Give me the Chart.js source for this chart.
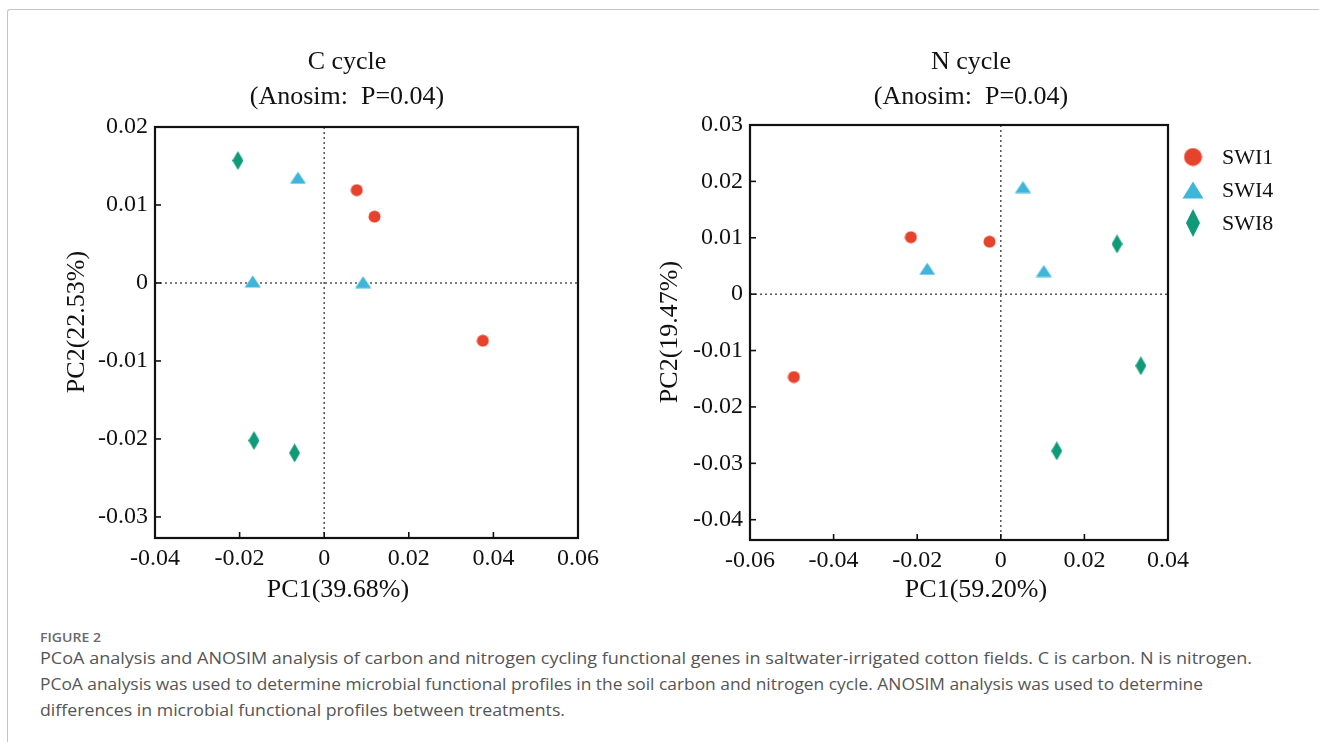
<!DOCTYPE html>
<html>
<head>
<meta charset="utf-8">
<script src="https://cdn.jsdelivr.net/npm/chart.js@4"></script>
<style>
  html, body { margin: 0; padding: 0; background: #fff; width: 1319px; height: 742px; overflow: hidden; }
  #frame { position: absolute; left: 7px; top: 9px; width: 1400px; height: 800px;
           border-top: 1px solid #c4c4c4; border-left: 1px solid #c4c4c4; border-top-left-radius: 3px; }
  #cWrap { position: absolute; left: 0; top: 0; }
  #nWrap { position: absolute; left: 640px; top: 0; }
  .cap { position: absolute; left: 40px; white-space: nowrap; color: #555;
         font-family: "Open Sans", "Liberation Sans", sans-serif; transform-origin: 0 50%; }
  #figLabel { top: 629px; font-size: 13px; line-height: 16px; font-weight: 600; color: #6a6a6a; }
  .line { font-size: 17px; line-height: 20px; }
</style>
</head>
<body>
<div id="frame"></div>
<div id="cWrap"><canvas id="chartC" width="640" height="620"></canvas></div>
<div id="nWrap"><canvas id="chartN" width="679" height="620"></canvas></div>
<div class="cap" id="figLabel">FIGURE 2</div>
<div class="cap line" id="cap1" style="top:648px">PCoA analysis and ANOSIM analysis of carbon and nitrogen cycling functional genes in saltwater-irrigated cotton fields. C is carbon. N is nitrogen.</div>
<div class="cap line" id="cap2" style="top:674px">PCoA analysis was used to determine microbial functional profiles in the soil carbon and nitrogen cycle. ANOSIM analysis was used to determine</div>
<div class="cap line" id="cap3" style="top:700px">differences in microbial functional profiles between treatments.</div>
<script>
// ---- data ----
const groupNames = ['SWI1', 'SWI4', 'SWI8'];

// C cycle
const swi1C = [{x: 0.0077, y: 0.0119}, {x: 0.0119, y: 0.0085}, {x: 0.0375, y: -0.0074}];
const swi4C = [{x: -0.0062, y: 0.0135}, {x: -0.0169, y: 0.0002}, {x: 0.0092, y: 0.0001}];
const swi8C = [{x: -0.0204, y: 0.0157}, {x: -0.0166, y: -0.0202}, {x: -0.0070, y: -0.0218}];
const cXTicks = [-0.04, -0.02, 0, 0.02, 0.04, 0.06];
const cYTicks = [-0.03, -0.02, -0.01, 0, 0.01, 0.02];

// N cycle
const swi1N = [{x: -0.0215, y: 0.0101}, {x: -0.0027, y: 0.0093}, {x: -0.0495, y: -0.0147}];
const swi4N = [{x: 0.0053, y: 0.0190}, {x: -0.0176, y: 0.0045}, {x: 0.0103, y: 0.0041}];
const swi8N = [{x: 0.0278, y: 0.0089}, {x: 0.0335, y: -0.0127}, {x: 0.0134, y: -0.0278}];
const nXTicks = [-0.06, -0.04, -0.02, 0, 0.02, 0.04];
const nYTicks = [-0.04, -0.03, -0.02, -0.01, 0, 0.01, 0.02, 0.03];

const colors = ['#e5432c', '#3fb5da', '#0f9a78'];
const serif = "'Liberation Serif', 'Times New Roman', serif";

// marker images (circle / triangle / tall diamond)
function makeMarker(shape, color, w, h) {
    const c = document.createElement('canvas');
    c.width = w; c.height = h;
    const g = c.getContext('2d');
    g.fillStyle = color;
    g.beginPath();
    if (shape === 'circle') {
        g.arc(w / 2, h / 2, Math.min(w, h) / 2 - 0.5, 0, Math.PI * 2);
    } else if (shape === 'triangle') {
        g.moveTo(w / 2, 0.5); g.lineTo(w - 0.5, h - 0.5); g.lineTo(0.5, h - 0.5);
    } else {
        g.moveTo(w / 2, 0); g.lineTo(w, h / 2); g.lineTo(w / 2, h); g.lineTo(0, h / 2);
    }
    g.closePath();
    g.fill();
    return c;
}
const plotMarkers = [makeMarker('circle', colors[0], 13, 13), makeMarker('triangle', colors[1], 17, 13), makeMarker('diamond', colors[2], 11, 19)];
const legendMarkers = [makeMarker('circle', colors[0], 19, 19), makeMarker('triangle', colors[1], 22, 18), makeMarker('diamond', colors[2], 14, 28)];

// frame, inward ticks, dotted zero lines, texts, legend
const pcoaFrame = {
    id: 'pcoaFrame',
    beforeDatasetsDraw(chart) {
        const {ctx, chartArea: a, scales: {x, y}} = chart;
        const seg = (x1, y1, x2, y2) => { ctx.beginPath(); ctx.moveTo(x1, y1); ctx.lineTo(x2, y2); ctx.stroke(); };
        ctx.save();
        ctx.strokeStyle = '#555'; ctx.lineWidth = 1.5; ctx.setLineDash([2, 3]);
        const x0 = x.getPixelForValue(0), y0 = y.getPixelForValue(0);
        seg(x0, a.top, x0, a.bottom);
        seg(a.left, y0, a.right, y0);
        ctx.setLineDash([]);
        ctx.strokeStyle = '#111'; ctx.lineWidth = 1.6;
        x.ticks.forEach(t => { const p = x.getPixelForValue(t.value); seg(p, a.bottom, p, a.bottom - 6); });
        y.ticks.forEach(t => { const p = y.getPixelForValue(t.value); seg(a.left, p, a.left + 6, p); });
        ctx.lineWidth = 2.2;
        ctx.strokeRect(a.left, a.top, a.width, a.height);
        ctx.restore();
    },
    afterDraw(chart, args, opts) {
        const ctx = chart.ctx;
        ctx.save();
        ctx.fillStyle = '#111';
        ctx.textAlign = 'center'; ctx.textBaseline = 'middle';
        (opts.texts || []).forEach(t => {
            ctx.save();
            ctx.font = (t.size || 26) + 'px ' + serif;
            ctx.translate(t.x, t.y);
            if (t.rot) ctx.rotate(t.rot);
            ctx.fillText(t.text, 0, 0);
            ctx.restore();
        });
        if (opts.legend) {
            const L = opts.legend;
            ctx.font = '22px ' + serif;
            ctx.textAlign = 'left';
            chart.data.datasets.forEach((ds, i) => {
                const cy = L.y + i * L.dy;
                const m = legendMarkers[i];
                ctx.drawImage(m, L.x - m.width / 2, cy - m.height / 2);
                ctx.fillText(ds.label, L.x + 29, cy + 1);
            });
        }
        ctx.restore();
    }
};

function tickFmt(v) { return v === 0 ? '0' : v.toFixed(2); }

function makeScale(min, max, ticks, axis, size) {
    return {
        type: 'linear', min: min, max: max,
        afterBuildTicks: s => { s.ticks = ticks.map(v => ({value: v})); },
        afterFit: s => { if (axis === 'x') s.height = size; else s.width = size; },
        grid: {display: false, drawTicks: false},
        border: {display: false},
        ticks: {
            autoSkip: false, maxRotation: 0, color: '#111',
            padding: axis === 'x' ? 6 : 7,
            font: {family: serif, size: 24},
            callback: v => tickFmt(v)
        }
    };
}

function makeDatasets(sets) {
    return sets.map((d, i) => ({
        label: groupNames[i], data: d,
        pointStyle: plotMarkers[i], pointRadius: 8,
        backgroundColor: colors[i], borderColor: colors[i]
    }));
}

new Chart(document.getElementById('chartC'), {
    type: 'scatter',
    data: {datasets: makeDatasets([swi1C, swi4C, swi8C])},
    options: {
        responsive: false, animation: false, devicePixelRatio: 1,
        layout: {padding: {top: 127, right: 62, bottom: 0, left: 0}},
        plugins: {
            legend: {display: false}, tooltip: {enabled: false},
            pcoaFrame: {
                texts: [
                    {text: 'C cycle', x: 347, y: 62},
                    {text: '(Anosim:  P=0.04)', x: 347, y: 97},
                    {text: 'PC1(39.68%)', x: 338, y: 590},
                    {text: 'PC2(22.53%)', x: 77, y: 322, rot: -Math.PI / 2}
                ]
            }
        },
        scales: {
            x: makeScale(-0.04, 0.06, cXTicks, 'x', 82),
            y: makeScale(-0.0327, 0.02, cYTicks, 'y', 155)
        }
    },
    plugins: [pcoaFrame]
});

new Chart(document.getElementById('chartN'), {
    type: 'scatter',
    data: {datasets: makeDatasets([swi1N, swi4N, swi8N])},
    options: {
        responsive: false, animation: false, devicePixelRatio: 1,
        layout: {padding: {top: 125, right: 151, bottom: 0, left: 0}},
        plugins: {
            legend: {display: false}, tooltip: {enabled: false},
            pcoaFrame: {
                texts: [
                    {text: 'N cycle', x: 331, y: 62},
                    {text: '(Anosim:  P=0.04)', x: 331, y: 97},
                    {text: 'PC1(59.20%)', x: 336, y: 590},
                    {text: 'PC2(19.47%)', x: 30, y: 332, rot: -Math.PI / 2}
                ],
                legend: {x: 553, y: 157, dy: 33}
            }
        },
        scales: {
            x: makeScale(-0.06, 0.04, nXTicks, 'x', 80),
            y: makeScale(-0.0436, 0.03, nYTicks, 'y', 110)
        }
    },
    plugins: [pcoaFrame]
});

// fit caption lines to the widths seen in the figure
[['cap1', 1212], ['cap2', 1163], ['cap3', 525], ['figLabel', 61]].forEach(([id, w]) => {
    const el = document.getElementById(id);
    const real = el.getBoundingClientRect().width;
    el.style.transform = 'scaleX(' + (w / real) + ')';
});
</script>
</body>
</html>
